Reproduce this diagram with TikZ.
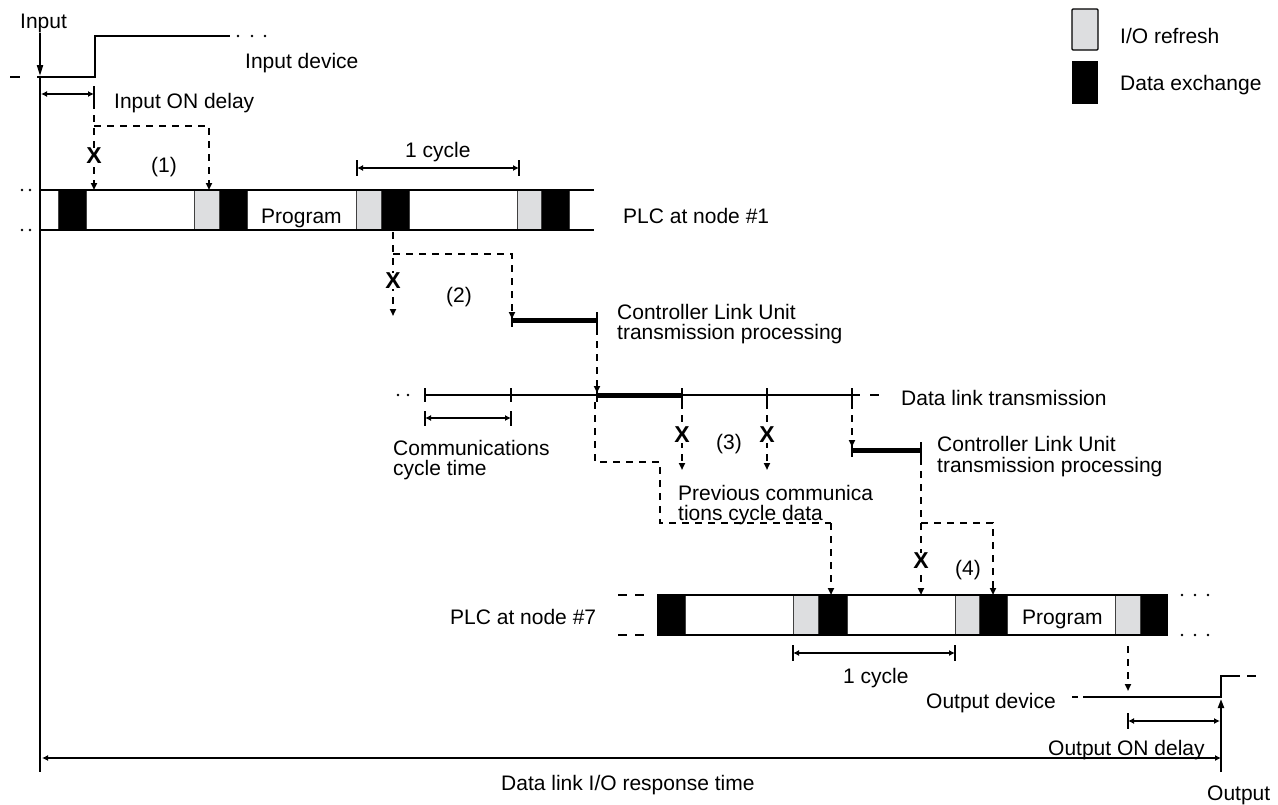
\documentclass[tikz,border=0pt]{standalone}
\usepackage{fontspec}
\setmainfont{Liberation Sans}
\usetikzlibrary{arrows.meta}
\definecolor{refresh}{RGB}{221,222,224}
\begin{document}
\begin{tikzpicture}[x=1pt,y=-1pt,
  ln/.style={line width=2pt},
  dsh/.style={line width=1.9pt,dash pattern=on 7pt off 6pt},
  thk/.style={line width=5pt},
  sepl/.style={line width=0.9pt,black!75},
  tri/.style={-{Triangle[length=7pt,width=6pt]}},
  meas/.style={line width=2pt,{Latex[length=6pt,width=6pt]}-{Latex[length=6pt,width=6pt]}},
  txt/.style={anchor=base west,inner sep=0pt,font=\fontsize{21}{20}\selectfont},
  xmk/.style={inner sep=0pt,fill=white,font=\fontsize{23}{23}\selectfont\bfseries},
  iore/.style={fill=refresh,draw=black,line width=0.9pt},
  dt/.style={radius=1.4pt}
]
\path[use as bounding box] (0,0) rectangle (1278,804);

% ---------- legend ----------
\filldraw[fill=refresh,draw=black,line width=1.3pt,rounded corners=1pt] (1072,9) rectangle (1098,50);
\fill[black] (1072,61) rectangle (1098,104);
\node[txt] (lg1) at (1120,43) {I/O refresh};
\node[txt] (lg2) at (1120,90) {Data exchange};

% ---------- input ----------
\node[txt] (inlbl) at (20,28) {Input};
\coordinate (inTop) at (40,33);
\coordinate (inLow) at (40,76);
\draw[ln,-{Triangle[length=11pt,width=6pt]}] (inTop) -- (inLow);
\draw[ln] (10,77) -- (20,77);
\draw[ln] (37,77) -- (95,77) -- (95,36) -- (230,36);
\foreach \x in {238,252,265} \fill (\x,36) circle[dt];
\node[txt] (indev) at (245,68) {Input device};
\draw[ln] (40,77) -- (40,772);

% input ON delay
\coordinate (d1a) at (41,94);
\coordinate (d1b) at (94,94);
\draw[meas] (d1a) -- (d1b);
\draw[ln] (94,86) -- (94,102);
\node[txt] (inon) at (114,108) {Input ON delay};

% (1)
\draw[dsh,tri] (94,102) -- (94,190);
\draw[dsh,tri] (94,126) -- (209,126) -- (209,190);
\node[xmk] (x1) at (94,156) {X};
\node[txt] (n1) at (151,172) {(1)};

% ---------- PLC node #1 ----------
\foreach \a/\b in {58/86,219/247,381/409,541/569} \fill (\a,190) rectangle (\b,230);
\foreach \a/\b in {194/219,356/381,517/541} \filldraw[iore] (\a,190) rectangle (\b,230);
\foreach \x in {58,86,194,219,247,356,381,409,517,541,569} \draw[sepl] (\x,190) -- (\x,230);
\draw[ln] (40,190) -- (594,190);
\draw[ln] (40,230) -- (594,230);
\foreach \x in {22,30} {\fill (\x,190) circle[dt]; \fill (\x,230) circle[dt];}
\node[txt] (prog1) at (261,223) {Program};
\node[txt] (plc1) at (623,223) {PLC at node \#1};

% 1 cycle (top)
\draw[meas] (357,168) -- (519,168);
\draw[ln] (357,160) -- (357,176);
\draw[ln] (519,160) -- (519,176);
\node[txt] (cy1) at (405,157) {1 cycle};

% (2)
\draw[dsh,tri] (393,232) -- (393,316);
\draw[dsh,tri] (393,254) -- (512,254) -- (512,319);
\node[xmk] (x2) at (393,281) {X};
\node[txt] (n2) at (446,302) {(2)};
\draw[thk] (512,320) -- (597,320);
\draw[ln] (512,313) -- (512,327);
\draw[ln] (597,312) -- (597,328);
\node[txt] (clu1a) at (617,319) {Controller Link Unit};
\node[txt] (clu1b) at (617,339) {transmission processing};
\draw[dsh,tri] (597,328) -- (597,393);

% ---------- data link transmission ----------
\draw[ln] (425,395) -- (860,395);
\draw[ln] (870,395) -- (879,395);
\foreach \x in {398,408} \fill (\x,395) circle[dt];
\draw[thk] (597,395) -- (682,395);
\foreach \x in {425,511,597,682,767,852} \draw[ln] (\x,388) -- (\x,402);
\node[txt] (dlt) at (901,405) {Data link transmission};

% communications cycle time
\draw[meas] (425,418) -- (511,418);
\draw[ln] (425,411) -- (425,426);
\draw[ln] (511,411) -- (511,426);
\node[txt] (cct1) at (393,455) {Communications};
\node[txt] (cct2) at (393,475) {cycle time};

% path to node #7
\draw[dsh] (595,402) -- (595,462) -- (660,462) -- (660,523) -- (831,523);
\draw[dsh,tri] (831,523) -- (831,595);

% (3)
\draw[dsh,tri] (682,402) -- (682,470);
\draw[dsh,tri] (767,402) -- (767,470);
\node[xmk] (x3a) at (682,435) {X};
\node[xmk] (x3b) at (767,435) {X};
\node[txt] (n3) at (716,449) {(3)};
\node[txt] (prev1) at (678,500) {Previous communica};
\node[txt] (prev2) at (678,520) {tions cycle data};

% second Controller Link Unit
\draw[dsh,tri] (852,402) -- (852,447);
\draw[thk] (852,450) -- (921,450);
\draw[ln] (852,443) -- (852,457);
\draw[ln] (921,442) -- (921,458);
\node[txt] (clu2a) at (937,451) {Controller Link Unit};
\node[txt] (clu2b) at (937,472) {transmission processing};

% (4)
\draw[dsh,tri] (921,458) -- (921,595);
\draw[dsh,tri] (921,523) -- (993,523) -- (993,595);
\node[xmk] (x4) at (921,561) {X};
\node[txt] (n4) at (955,575) {(4)};

% ---------- PLC node #7 ----------
\foreach \a/\b in {657/685,818/847,979/1007,1140/1168} \fill (\a,595) rectangle (\b,635);
\foreach \a/\b in {793/818,955/979,1115/1140} \filldraw[iore] (\a,595) rectangle (\b,635);
\foreach \x in {685,793,818,847,955,979,1007,1115,1140} \draw[sepl] (\x,595) -- (\x,635);
\draw[ln] (657,595) -- (1168,595);
\draw[ln] (657,635) -- (1168,635);
\foreach \y in {595,635} {\draw[ln] (618,\y) -- (627,\y); \draw[ln] (635,\y) -- (644,\y);
  \foreach \x in {1182,1195,1208} \fill (\x,\y) circle[dt];}
\node[txt] (prog7) at (1022,624) {Program};
\node[txt] (plc7) at (450,624) {PLC at node \#7};

% 1 cycle (bottom)
\draw[meas] (793,653) -- (955,653);
\draw[ln] (793,645) -- (793,661);
\draw[ln] (955,645) -- (955,661);
\node[txt] (cy7) at (843,683) {1 cycle};

% ---------- output ----------
\draw[dsh,tri] (1128,646) -- (1128,691);
\draw[ln] (1072,697) -- (1078,697);
\draw[ln] (1083,697) -- (1221,697) -- (1221,676) -- (1240,676);
\draw[ln] (1247,676) -- (1256,676);
\node[txt] (outdev) at (926,708) {Output device};
\coordinate (outBot) at (1221,772);
\coordinate (outUp) at (1221,699);
\draw[ln,-{Triangle[length=9pt,width=6pt]}] (outBot) -- (outUp);
\draw[meas] (1128,721) -- (1220,721);
\draw[ln] (1128,713) -- (1128,729);
\node[txt] (outon) at (1048,755) {Output ON delay};
\node[txt] (outlbl) at (1207,800) {Output};

% response time
\coordinate (rtL) at (42,758);
\coordinate (rtR) at (1221,758);
\draw[meas] (rtL) -- (rtR);
\node[txt] (rt) at (501,790) {Data link I/O response time};
\end{tikzpicture}
\end{document}
